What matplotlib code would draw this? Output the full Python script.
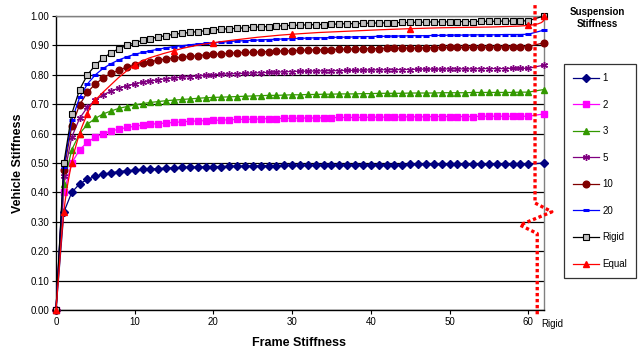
import matplotlib
matplotlib.use("Agg")
import matplotlib.pyplot as plt
import matplotlib.transforms as mtransforms
from matplotlib.path import Path
from matplotlib.patches import PathPatch

plt.rcParams['font.family'] = ['Liberation Sans', 'DejaVu Sans']

# ---------------- data ----------------
frame_stiffness = list(range(0, 61))
rigid_x = 62
rigid_label = "Rigid"

s1 = [0, .333, .400, .429, .444, .455, .462, .467, .471, .474, .476, .478, .480, .481, .483, .484,
      .485, .486, .486, .487, .488, .488, .489, .489, .490, .490, .491, .491, .491, .492, .492,
      .492, .492, .493, .493, .493, .493, .493, .494, .494, .494, .494, .494, .494, .494, .495,
      .495, .495, .495, .495, .495, .495, .495, .495, .495, .495, .496, .496, .496, .496, .496]
s2 = [0, .400, .500, .545, .571, .588, .600, .609, .615, .621, .625, .629, .632, .634, .636, .638,
      .640, .642, .643, .644, .645, .646, .647, .648, .649, .649, .650, .651, .651, .652, .652,
      .653, .653, .653, .654, .654, .655, .655, .655, .655, .656, .656, .656, .656, .657, .657,
      .657, .657, .658, .658, .658, .658, .658, .658, .659, .659, .659, .659, .659, .659, .659]
s3 = [0, .429, .545, .600, .632, .652, .667, .677, .686, .692, .698, .702, .706, .709, .712, .714,
      .716, .718, .720, .722, .723, .724, .725, .726, .727, .728, .729, .730, .730, .731, .732,
      .732, .733, .733, .734, .734, .735, .735, .735, .736, .736, .737, .737, .737, .737, .738,
      .738, .738, .738, .739, .739, .739, .739, .740, .740, .740, .740, .740, .740, .741, .741]
s5 = [0, .455, .588, .652, .690, .714, .732, .745, .755, .763, .769, .775, .779, .783, .787, .789,
      .792, .794, .796, .798, .800, .802, .803, .804, .805, .806, .807, .808, .809, .810, .811,
      .812, .812, .813, .813, .814, .814, .815, .815, .816, .816, .817, .817, .817, .818, .818,
      .819, .819, .819, .819, .820, .820, .820, .820, .821, .821, .821, .821, .822, .822, .822]
s10 = [0, .476, .625, .698, .741, .769, .789, .805, .816, .826, .833, .840, .845, .850, .854, .857,
       .860, .863, .865, .868, .870, .871, .873, .875, .876, .877, .878, .879, .881, .881, .882,
       .883, .884, .885, .885, .886, .887, .887, .888, .888, .889, .889, .890, .890, .891, .891,
       .891, .892, .892, .893, .893, .893, .893, .894, .894, .894, .895, .895, .895, .895, .896]
s20 = [0, .488, .645, .723, .769, .800, .822, .838, .851, .861, .870, .876, .882, .887, .892, .896,
       .899, .902, .905, .907, .909, .911, .913, .915, .916, .917, .919, .920, .921, .922, .923,
       .924, .925, .926, .926, .927, .928, .928, .929, .930, .930, .931, .931, .932, .932, .933,
       .933, .933, .934, .934, .935, .935, .935, .936, .936, .936, .936, .937, .937, .937, .938]
s_rigid = [0, .500, .667, .750, .800, .833, .857, .875, .889, .900, .909, .917, .923, .929, .933, .938,
           .941, .944, .947, .950, .952, .955, .957, .958, .960, .962, .963, .964, .966, .967, .968,
           .969, .970, .971, .971, .972, .973, .974, .974, .975, .976, .976, .977, .977, .978, .978,
           .979, .979, .980, .980, .980, .981, .981, .981, .982, .982, .982, .983, .983, .983, .984]
equal_x = [0, 1, 2, 3, 4, 5, 10, 15, 20, 30, 45, 60]
s_equal = [0, .333, .500, .600, .667, .714, .833, .882, .909, .938, .957, .968]

# value at the "Rigid" frame position, per series
rigid_end = {"1": .500, "2": .667, "3": .750, "5": .833, "10": .909, "20": .952,
             "Rigid": 1.0, "Equal": 1.0}

# red dotted break marker (x, y) in data units
break_x = [60.86, 60.86, 63.0, 58.95, 61.14, 61.14]
break_y = [1.037, 0.364, 0.334, 0.289, 0.260, -0.023]

x_ticks = [0, 10, 20, 30, 40, 50, 60]
y_ticks = [0.0, 0.1, 0.2, 0.3, 0.4, 0.5, 0.6, 0.7, 0.8, 0.9, 1.0]

# ---------------- figure ----------------
fig = plt.figure(figsize=(6.43, 3.58), dpi=100)
ax = fig.add_axes([56 / 643, 1 - 310 / 358, 488 / 643, 294 / 358])

series = [
    ("1", s1, dict(color="#000080", marker="D", ms=3.8, mfc="#000080", mec="#000080")),
    ("2", s2, dict(color="#FF00FF", marker="s", ms=4.3, mfc="#FF00FF", mec="#FF00FF")),
    ("3", s3, dict(color="#339900", marker="^", ms=4.8, mfc="#339900", mec="#339900")),
    ("5", s5, dict(color="#800080", marker=(6, 2, 0), ms=5.0, mfc="#800080", mec="#800080", mew=1.0)),
    ("10", s10, dict(color="#800000", marker="o", ms=4.8, mfc="#800000", mec="#800000")),
    ("20", s20, dict(color="#0000FF", marker="_", ms=4.0, mfc="#0000FF", mec="#0000FF", mew=2.2)),
    ("Rigid", s_rigid, dict(color="#000000", marker="s", ms=4.6, mfc="#C0C0C0", mec="#000000", mew=0.8)),
]

for name, vals, st in series:
    xs = frame_stiffness + [rigid_x]
    ys = vals + [rigid_end[name]]
    ax.plot(xs, ys, lw=0.9, label=name, clip_on=False, zorder=3, **st)

# Equal series: smoothed line (Excel-style cubic Bezier through the points) + markers
ex = equal_x + [rigid_x]
ey = s_equal + [rigid_end["Equal"]]
n = len(ex)
verts = [(ex[0], ey[0])]
codes = [Path.MOVETO]
for i in range(n - 1):
    p0 = (ex[max(i - 1, 0)], ey[max(i - 1, 0)])
    p1 = (ex[i], ey[i])
    p2 = (ex[i + 1], ey[i + 1])
    p3 = (ex[min(i + 2, n - 1)], ey[min(i + 2, n - 1)])
    c1 = (p1[0] + (p2[0] - p0[0]) / 6, p1[1] + (p2[1] - p0[1]) / 6)
    c2 = (p2[0] - (p3[0] - p1[0]) / 6, p2[1] - (p3[1] - p1[1]) / 6)
    verts += [c1, c2, p2]
    codes += [Path.CURVE4, Path.CURVE4, Path.CURVE4]
ax.add_patch(PathPatch(Path(verts, codes), fill=False, edgecolor="#FF0000", lw=0.9,
                       zorder=4, clip_on=False))
ax.plot(ex, ey, linestyle="none", marker="^", ms=5.0, mfc="#FF0000", mec="#FF0000",
        clip_on=False, zorder=4)
# legend proxy for Equal
ax.plot([], [], color="#FF0000", lw=0.9, marker="^", ms=5.0, mfc="#FF0000", mec="#FF0000",
        label="Equal")

# break marker
ax.plot(break_x, break_y, color="#FF0000", lw=2.4, linestyle=(0, (1.0, 0.8)),
        clip_on=False, zorder=5, solid_capstyle="butt", dash_capstyle="butt")

ax.set_xlim(0, 62)
ax.set_ylim(0, 1.0)
ax.set_xticks(x_ticks)
ax.set_yticks(y_ticks)
ax.set_yticklabels([f"{v:.2f}" for v in y_ticks])
ax.tick_params(axis="both", labelsize=7, length=3, width=0.8, direction="out", pad=2)

ax.yaxis.grid(True, color="black", lw=0.9)
ax.set_axisbelow(True)
for sp in ["top", "right"]:
    ax.spines[sp].set_color("#808080")
    ax.spines[sp].set_linewidth(1.0)
for sp in ["left", "bottom"]:
    ax.spines[sp].set_color("black")
    ax.spines[sp].set_linewidth(1.0)

trans = mtransforms.blended_transform_factory(ax.transData, ax.transAxes)
ax.text(63.0, -0.03, rigid_label, transform=trans, ha="center", va="top", fontsize=7)

fig.text(18 / 643, 1 - 163 / 358, "Vehicle Stiffness", rotation=90, ha="center", va="center",
         fontsize=9, fontweight="bold")
fig.text(299 / 643, 1 - 343 / 358, "Frame Stiffness", ha="center", va="center",
         fontsize=9, fontweight="bold")
fig.text(597 / 643, 1 - 18 / 358, "Suspension\nStiffness", ha="center", va="center",
         fontsize=7, fontweight="bold", linespacing=1.35)

leg = ax.legend(loc="upper left", bbox_to_anchor=(564 / 643, 1 - 64 / 358),
                bbox_transform=fig.transFigure, borderaxespad=0, frameon=True,
                fontsize=7, labelspacing=1.70, handlelength=2.7, handletextpad=0.3,
                borderpad=0.95, numpoints=1, fancybox=False)
leg.get_frame().set_edgecolor("black")
leg.get_frame().set_linewidth(0.9)

fig.savefig("out.png", dpi=100)
